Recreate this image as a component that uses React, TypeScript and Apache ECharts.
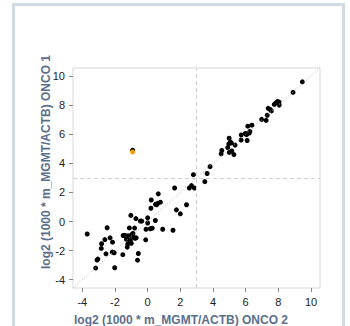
import React, { useEffect, useRef } from "react";
import * as echarts from "echarts";

const AXIS_MIN = -4.57;
const AXIS_MAX = 10.55;
const tickValues = [-4, -2, 0, 2, 4, 6, 8, 10];
const cutoff = 3;

const blackPoints: number[][] = [
  [9.47, 9.6], [8.9, 8.88],
  [8.05, 8.2], [7.95, 8.25], [7.85, 8.15], [7.75, 8.05], [8.05, 8.0],
  [7.5, 7.7], [7.38, 7.78], [7.57, 7.6],
  [7.32, 7.3], [7.25, 6.95], [6.98, 7.02],
  [6.38, 6.62], [6.13, 6.55], [6.26, 6.2], [6.22, 6.08], [6.05, 5.97], [5.98, 6.05], [6.09, 5.57],
  [5.73, 5.95], [5.72, 5.6], [5.35, 5.25],
  [4.99, 5.72], [5.07, 5.45], [4.97, 5.33], [5.12, 5.4], [4.9, 5.08], [5.0, 4.75], [5.15, 4.85], [5.28, 4.6], [4.54, 4.88], [4.5, 4.65],
  [3.82, 3.77], [3.64, 3.3], [3.5, 2.74],
  [2.8, 3.22], [2.86, 2.3], [2.68, 2.47], [2.55, 2.3],
  [1.65, 2.3], [2.38, 1.15], [1.76, 0.8], [2.0, 0.53], [1.55, -0.6], [0.92, -0.53],
  [0.65, 1.9], [0.78, 1.33], [0.62, 1.25], [0.48, 1.18], [0.55, 1.15], [0.22, 1.48], [0.2, 0.91], [0.47, 0.07],
  [0.0, 0.25], [0.0, -0.1], [-0.1, -0.53], [0.16, -0.5], [0.28, -0.46], [-0.12, -1.26],
  [-0.36, 0.03], [-0.45, 0.03], [-0.72, 0.2], [-1.03, 0.42],
  [-0.8, -0.45], [-1.12, -0.44], [-2.48, -0.43], [-3.7, -0.86],
  [-0.9, -0.82], [-0.85, -1.1], [-0.7, -1.12], [-0.78, -1.15], [-1.0, -1.5], [-1.25, -1.76], [-1.22, -1.55],
  [-1.3, -1.22], [-1.4, -0.95], [-1.5, -0.96], [-1.2, -0.98], [-1.15, -1.1], [-1.06, -1.3], [-0.98, -0.9],
  [-1.52, -2.28], [-0.57, -2.2], [-0.62, -2.66],
  [-2.3, -1.12], [-2.62, -1.24], [-2.82, -1.53], [-2.84, -1.85], [-2.55, -2.22], [-2.15, -1.42], [-2.17, -2.1], [-2.05, -2.15],
  [-3.05, -2.58], [-3.1, -2.65], [-3.18, -3.2], [-2.02, -3.18],
  [-0.92, 4.9],
];
const orangePoints: number[][] = [[-0.92, 4.78]];

const xTitle = "log2 (1000 * m_MGMT/ACTB) ONCO 2";
const yTitle = "log2 (1000 * m_MGMT/ACTB) ONCO 1";

const FONT = "Liberation Sans, Arial, Helvetica, sans-serif";
const TITLE_COLOR = "#5b6f8d";

export default function App() {
  const ref = useRef<HTMLDivElement>(null);
  useEffect(() => {
    if (!ref.current) return;
    const chart = echarts.init(ref.current, null, { renderer: "svg" });
    const axisCommon = {
      type: "value" as const,
      min: AXIS_MIN,
      max: AXIS_MAX,
      splitLine: { show: false },
      axisLine: { show: false, onZero: false },
      axisTick: { show: true, length: 4, customValues: tickValues, lineStyle: { color: "#888" } },
      axisLabel: { customValues: tickValues, color: "#222", fontSize: 11, fontFamily: FONT, margin: 8 },
    };
    chart.setOption({
      animation: false,
      grid: {
        left: 73, top: 68, right: 30, bottom: 38,
        show: true, borderColor: "#d8d8d8", borderWidth: 1, backgroundColor: "transparent",
      },
      xAxis: { ...axisCommon },
      yAxis: { ...axisCommon },
      graphic: [
        {
          type: "rect",
          shape: { x: 13.5, y: 4.5, width: 330, height: 340 },
          style: { fill: "none", stroke: "#d2dae3", lineWidth: 3 },
          silent: true,
        },
        {
          type: "text",
          x: 181, y: 320,
          style: { text: xTitle, fill: TITLE_COLOR, font: `bold 12px ${FONT}`, textAlign: "center", textVerticalAlign: "middle" },
        },
        {
          type: "text",
          x: 46, y: 162, rotation: Math.PI / 2,
          style: { text: yTitle, fill: TITLE_COLOR, font: `bold 12px ${FONT}`, textAlign: "center", textVerticalAlign: "middle" },
        },
      ],
      series: [
        {
          type: "scatter",
          data: blackPoints,
          symbol: "circle",
          symbolSize: 5,
          itemStyle: { color: "#000", opacity: 1 },
          z: 3,
          markLine: {
            silent: true,
            symbol: "none",
            label: { show: false },
            data: [
              { xAxis: cutoff, lineStyle: { type: [4, 3], color: "#cfcfcf", width: 1 } },
              { yAxis: cutoff, lineStyle: { type: [4, 3], color: "#cfcfcf", width: 1 } },
              [
                { coord: [AXIS_MIN, AXIS_MIN], lineStyle: { type: [1, 2], color: "#b5b5b5", width: 1 } },
                { coord: [AXIS_MAX, AXIS_MAX] },
              ],
            ],
          },
        },
        {
          type: "scatter",
          data: orangePoints,
          symbol: "circle",
          symbolSize: 5,
          itemStyle: { color: "#f59c00", opacity: 1 },
          z: 4,
        },
      ],
    });
    return () => chart.dispose();
  }, []);
  return (
    <div
      ref={ref}
      style={{ position: "fixed", left: 0, top: 0, width: 350, height: 326, background: "#fff" }}
    />
  );
}
